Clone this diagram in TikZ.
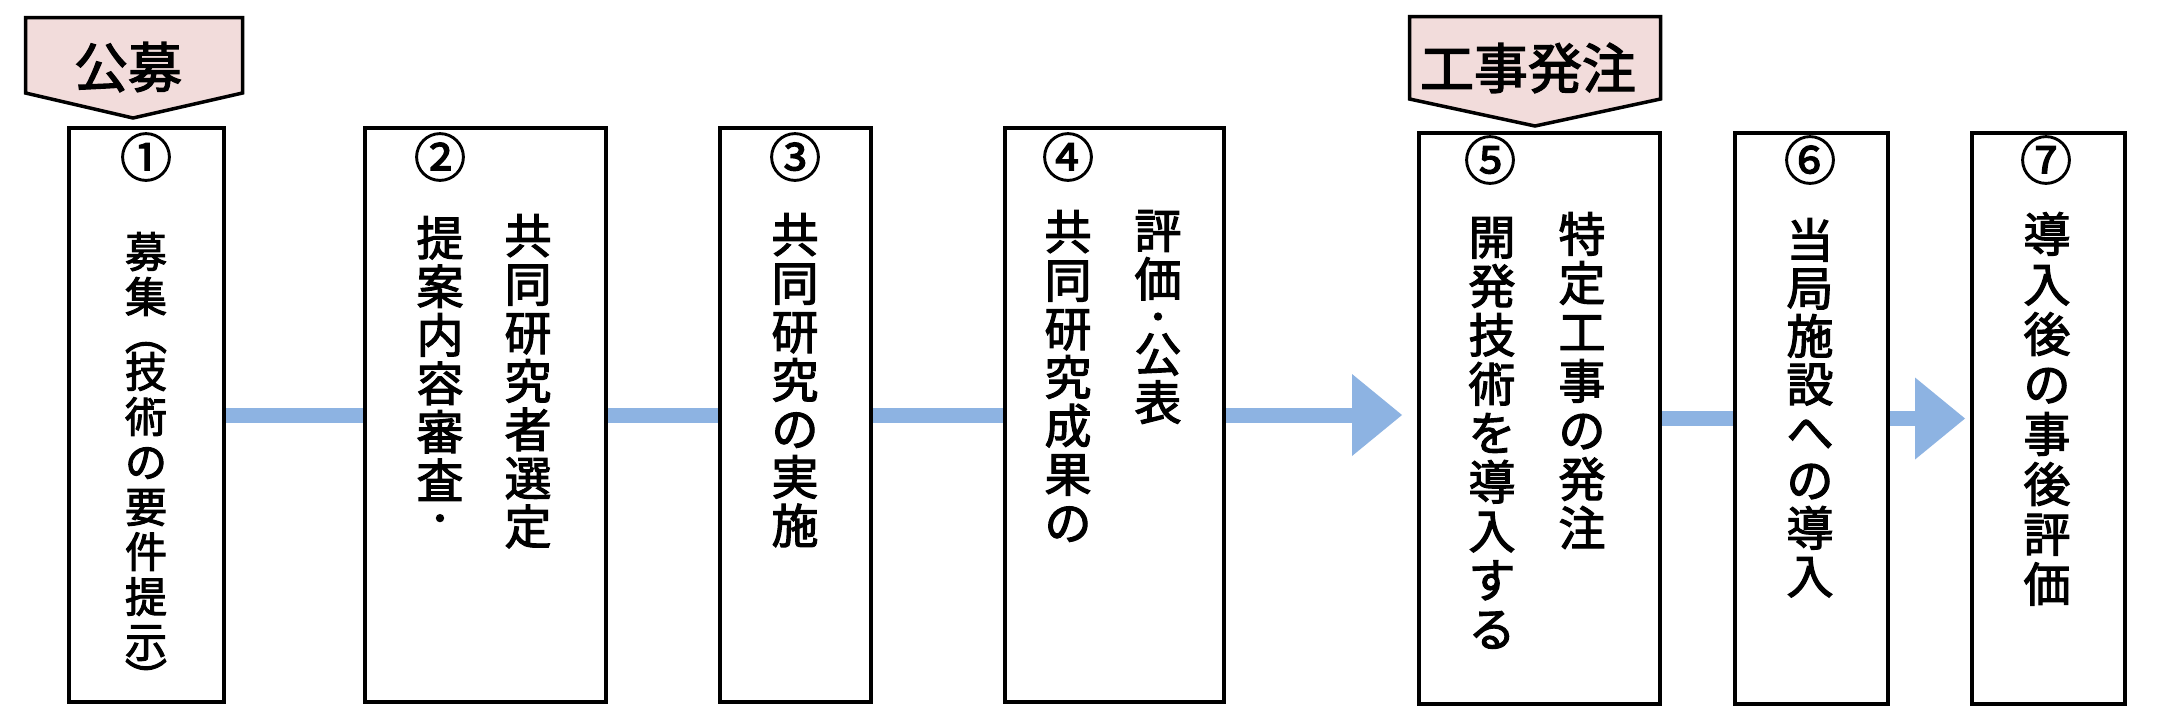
\documentclass[tikz,border=0pt]{standalone}
\usepackage{fontspec}
\newfontfamily\jp[FakeBold=2.4]{Noto Sans CJK JP}
\newfontfamily\jpdot[FakeBold=7]{Noto Sans CJK JP}
\usetikzlibrary{arrows.meta}
\definecolor{flowblue}{RGB}{141,179,226}
\definecolor{tagpink}{RGB}{242,220,219}
\newcommand{\vparen}[1]{\smash{\rotatebox[origin=c]{-90}{#1}}}
\newcommand{\vdot}{{\jpdot\fontsize{29}{29}\selectfont ・}}
\begin{document}
\begin{tikzpicture}[x=1pt,y=-1pt,
  stepbox/.style={draw=black,line width=4pt,fill=none,inner sep=0pt},
  tagshape/.style={draw=black,line width=3.5pt,fill=tagpink,line join=miter},
  taglabel/.style={inner sep=0pt,font=\jp\fontsize{54}{60}\selectfont},
  num/.style={inner sep=0pt,font=\jp\fontsize{52}{56}\selectfont},
  col/.style={inner sep=0pt,anchor=north,align=center,font=\jp\fontsize{47}{#1}\selectfont},
  col/.default=48.5,
  flow/.style={draw=flowblue,line width=15pt},
  flowarrow/.style={draw=flowblue,line width=15pt,-{Triangle[length=50pt,width=82pt,line width=0pt]}}
]
\fill[white] (0,0) rectangle (2157,713);
\useasboundingbox (0,0) rectangle (2157,713);

% tags
\draw[tagshape] (25.5,17.5) -- (242.5,17.5) -- (242.5,93) -- (133,118) -- (25.5,93) -- cycle;
\node[taglabel] (tag1) at (128,67) {公募};
\draw[tagshape] (1409.5,16.5) -- (1660.5,16.5) -- (1660.5,99) -- (1535,126) -- (1409.5,99) -- cycle;
\node[taglabel] (tag5) at (1528,68) {工事発注};

% boxes
\node[stepbox,minimum width=155pt,minimum height=574pt] (b1) at (146.5,415) {};
\node[stepbox,minimum width=241pt,minimum height=574pt] (b2) at (485.5,415) {};
\node[stepbox,minimum width=151pt,minimum height=574pt] (b3) at (795.5,415) {};
\node[stepbox,minimum width=219pt,minimum height=574pt] (b4) at (1114.5,415) {};
\node[stepbox,minimum width=241pt,minimum height=571pt] (b5) at (1539.5,418.5) {};
\node[stepbox,minimum width=153pt,minimum height=571pt] (b6) at (1811.5,418.5) {};
\node[stepbox,minimum width=153pt,minimum height=571pt] (b7) at (2048.5,418.5) {};

% numbers
\node[num] (n1) at (146,157) {①};
\node[num] (n2) at (440,157) {②};
\node[num] (n3) at (795,157) {③};
\node[num] (n4) at (1068,157) {④};
\node[num] (n5) at (1490,160) {⑤};
\node[num] (n6) at (1810,160) {⑥};
\node[num] (n7) at (2046,160) {⑦};

% texts
\node[col=45,font=\jp\fontsize{42}{45}\selectfont] (t1) at (146,232)
  {募\\集\\[-7.5pt]\vparen{（}\\[-7.5pt]技\\術\\の\\要\\件\\提\\示\\[-8.5pt]\vparen{）}};
\node[col] (t2r) at (528,214) {共\\同\\研\\究\\者\\選\\定};
\node[col] (t2l) at (440,216) {提\\案\\内\\容\\審\\査\\[-17.5pt]\vdot};
\node[col] (t3) at (795,213) {共\\同\\研\\究\\の\\実\\施};
\node[col] (t4l) at (1068,210) {共\\同\\研\\究\\成\\果\\の};
\node[col] (t4r) at (1158,210) {評\\価\\[-17.5pt]\vdot\\[-4.5pt]公\\表};
\node[col=49] (t5r) at (1582,212) {特\\定\\工\\事\\の\\発\\注};
\node[col=49] (t5l) at (1492,217) {開\\発\\技\\術\\を\\導\\入\\す\\る};
\node[col=48] (t6) at (1810,218) {当\\局\\施\\設\\へ\\の\\導\\入};
\node[col=50] (t7) at (2047,212) {導\\入\\後\\の\\事\\後\\評\\価};

% connectors
\draw[flow] (b1.east) -- (b2.west);
\draw[flow] (b2.east) -- (b3.west);
\draw[flow] (b3.east) -- (b4.west);
\draw[flowarrow,shorten >=15pt] (b4.east) -- (b4.east -| b5.west);
\draw[flow] (b5.east) -- (b6.west);
\draw[flowarrow,shorten >=5pt] (b6.east) -- (b7.west);
\end{tikzpicture}
\end{document}
